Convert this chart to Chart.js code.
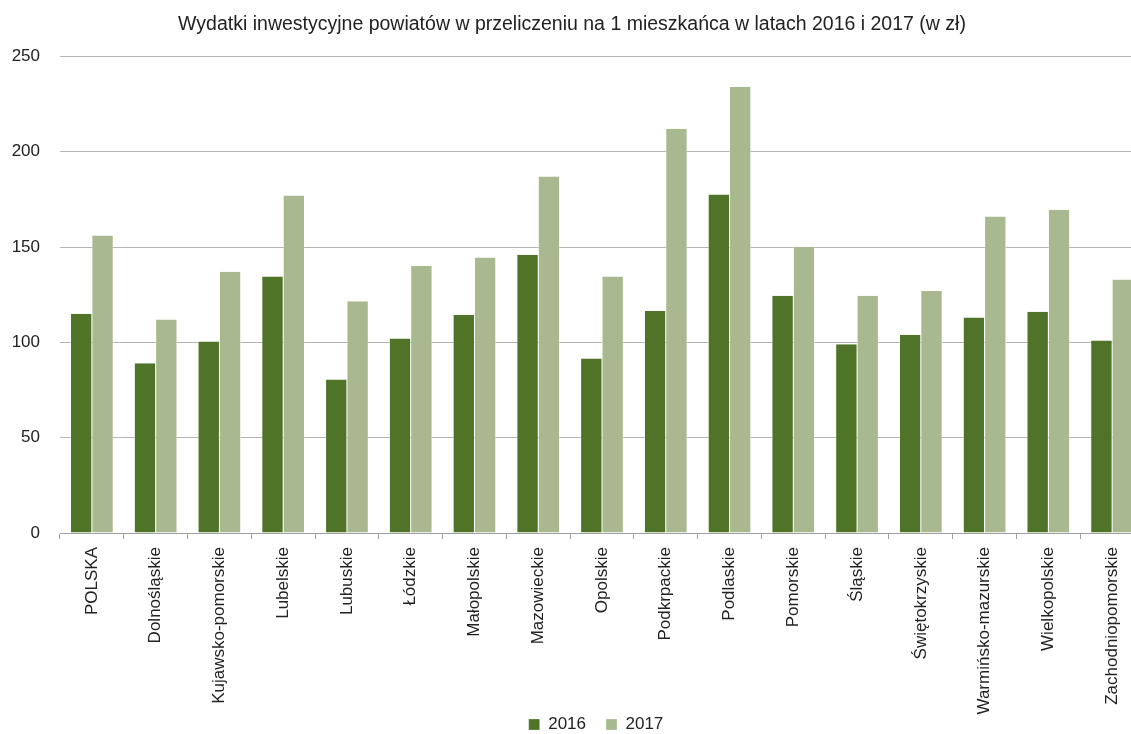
<!DOCTYPE html>
<html>
<head>
<meta charset="utf-8">
<script src="https://cdn.jsdelivr.net/npm/chart.js@4.4.0/dist/chart.umd.min.js"></script>
<style>
  html, body { margin: 0; padding: 0; background: #fff; overflow: hidden; }
  #wrap { width: 1146px; height: 734px; position: relative; }
</style>
</head>
<body>
<div id="wrap"><canvas id="chart"></canvas></div>
<script>
// Wydatki inwestycyjne powiatów na 1 mieszkańca (zł)
const regions = [
    'POLSKA', 'Dolnośląskie', 'Kujawsko-pomorskie', 'Lubelskie', 'Lubuskie',
    'Łódzkie', 'Małopolskie', 'Mazowieckie', 'Opolskie', 'Podkrpackie',
    'Podlaskie', 'Pomorskie', 'Śląskie', 'Świętokrzyskie', 'Warmińsko-mazurskie',
    'Wielkopolskie', 'Zachodniopomorskie'
];
const values2016 = [115, 89, 100.5, 134.5, 80.5, 102, 114.5, 146, 91.5, 116.5, 177.5, 124.5, 99, 104, 113, 116, 101];
const values2017 = [156, 112, 137, 177, 121.5, 140, 144.5, 187, 134.5, 212, 234, 150, 124.5, 127, 166, 169.5, 133];
const yTicks = [0, 50, 100, 150, 200, 250];

const FONT = "'Liberation Sans', Arial, sans-serif";

// labels hang over the legend strip in the original, so don't clip them to the axis box
// and nudge the legend a bit left like in the source
const layoutTweaks = {
    id: 'layoutTweaks',
    afterLayout(chart) {
        chart.legend.left -= 6;
        chart.legend.right -= 6;
    },
    beforeDraw(chart) {
        chart.scales.x._computeLabelArea = () => undefined;
    }
};

new Chart(document.getElementById('chart'), {
    type: 'bar',
    data: {
        labels: regions,
        datasets: [
            { label: '2016', data: values2016, backgroundColor: '#4f7428', borderColor: '#ffffff', borderWidth: { left: 0.5, right: 0.5 } },
            { label: '2017', data: values2017, backgroundColor: '#a8b990', borderColor: '#ffffff', borderWidth: { left: 0.5, right: 0.5 } }
        ]
    },
    plugins: [layoutTweaks],
    options: {
        responsive: true,
        maintainAspectRatio: false,
        animation: false,
        categoryPercentage: 0.67,
        barPercentage: 1.0,
        layout: { padding: { left: 0, right: 2, top: 4, bottom: -9 } },
        plugins: {
            title: {
                display: true,
                text: 'Wydatki inwestycyjne powiatów w przeliczeniu na 1 mieszkańca w latach 2016 i 2017 (w zł)',
                color: '#222',
                font: { family: FONT, size: 19.5, weight: 'normal' },
                padding: { top: 9, bottom: 20 }
            },
            legend: {
                position: 'bottom',
                fullSize: false,
                labels: {
                    color: '#222',
                    boxWidth: 11, boxHeight: 11,
                    padding: 20,
                    font: { family: FONT, size: 17 }
                }
            },
            tooltip: { enabled: false }
        },
        scales: {
            x: {
                grid: { display: true, drawOnChartArea: false, drawTicks: true, tickLength: 6, color: '#a0a0a0', offset: true },
                border: { display: true, color: '#a0a0a0' },
                ticks: {
                    color: '#222',
                    font: { family: FONT, size: 17 },
                    minRotation: 90, maxRotation: 90,
                    autoSkip: false,
                    padding: 8
                },
                afterFit: axis => { axis.height = 163; }
            },
            y: {
                min: 0, max: 250,
                afterBuildTicks: axis => { axis.ticks = yTicks.map(v => ({ value: v })); },
                grid: { color: '#b4b4b4', drawTicks: false },
                border: { display: false },
                ticks: {
                    color: '#222',
                    font: { family: FONT, size: 17 },
                    padding: 20
                },
                afterFit: axis => { axis.width = 60; }
            }
        }
    }
});
</script>
</body>
</html>
